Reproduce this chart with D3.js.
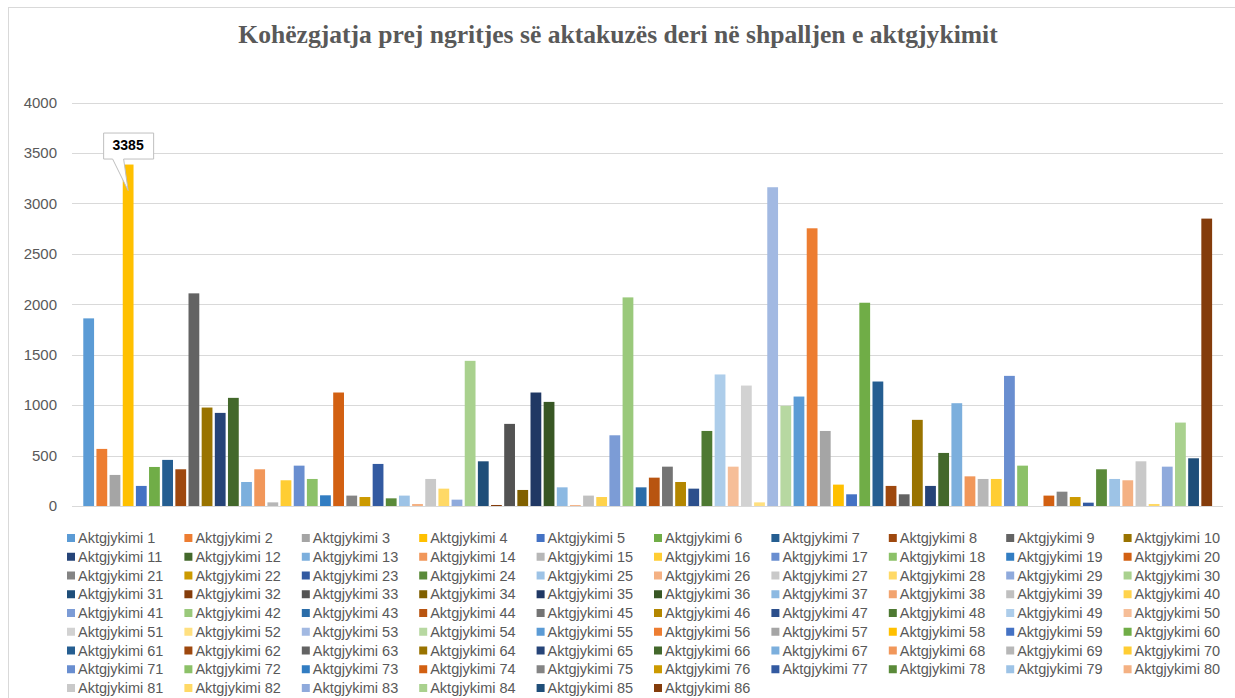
<!DOCTYPE html>
<html>
<head>
<meta charset="utf-8">
<script src="https://cdn.jsdelivr.net/npm/d3@7"></script>
<style>
  html, body { margin: 0; padding: 0; background: #ffffff; }
  svg { display: block; }
</style>
</head>
<body>
<svg id="chart" width="1235" height="698"></svg>
<script>
// ---------------- DATA ----------------
const title = "Kohëzgjatja prej ngritjes së aktakuzës deri në shpalljen e aktgjykimit";

const seriesNames = d3.range(1, 87).map(i => "Aktgjykimi " + i);

const values = [
  1860, 566, 308, 3385, 199, 387, 457, 364, 2108, 976,
  923, 1072, 238, 364, 36, 255, 400, 268, 106, 1125,
  103, 89, 417, 76, 103, 20, 268, 172, 63, 1439,
  443, 10, 814, 159, 1125, 1032, 185, 8, 103, 89,
  701, 2068, 185, 281, 390, 238, 172, 744, 1304, 390,
  1194, 36, 3160, 993, 1085, 2753, 744, 212, 116, 2015,
  1234, 199, 116, 854, 199, 526, 1019, 294, 268, 268,
  1290, 400, 0, 103, 142, 89, 33, 364, 268, 255,
  443, 20, 390, 827, 473, 2849
];

const yTicks = [0, 500, 1000, 1500, 2000, 2500, 3000, 3500, 4000];

const labeledSeries = "Aktgjykimi 4";

// Office theme base colours and Excel's variation sequence (lumMod, lumOff)
const baseColors = ["#5B9BD5", "#ED7D31", "#A5A5A5", "#FFC000", "#4472C4", "#70AD47"];
const variations = [[1, 0], [0.6, 0], [0.8, 0.2], [0.8, 0], [0.6, 0.4], [0.5, 0], [0.7, 0.3], [0.7, 0], [0.5, 0.5]];

// ---------------- LAYOUT ----------------
const svg = d3.select("#chart");
const W = 1235, H = 698;
const plot = { left: 72, right: 1223, top: 102.5, bottom: 506 };

function seriesColor(i) {
  const base = d3.hsl(baseColors[i % 6]);
  const v = variations[Math.floor(i / 6) % variations.length];
  const c = d3.hsl(base.h, base.s, base.l * v[0] + v[1]);
  return c.formatHex();
}

svg.append("rect").attr("width", W).attr("height", H).attr("fill", "#ffffff");
// chart border (extends beyond the picture)
svg.append("rect")
  .attr("x", 8.5).attr("y", 7.5)
  .attr("width", 1400).attr("height", 900)
  .attr("fill", "none").attr("stroke", "#d9d9d9").attr("stroke-width", 1);

// title
svg.append("text")
  .attr("x", 618).attr("y", 43)
  .attr("text-anchor", "middle")
  .attr("font-family", "'Liberation Serif', 'Times New Roman', serif")
  .attr("font-weight", "bold")
  .attr("font-size", 25.6)
  .attr("fill", "#595959")
  .text(title);

const y = d3.scaleLinear().domain([0, 4000]).range([plot.bottom, plot.top]);
const x = d3.scaleBand()
  .domain(seriesNames)
  .range([82.1, 1213.3])
  .paddingInner(0.18)
  .paddingOuter(0.09);

// gridlines
svg.append("g")
  .selectAll("line")
  .data(yTicks)
  .join("line")
  .attr("x1", plot.left).attr("x2", plot.right)
  .attr("y1", d => Math.round(y(d)) + 0.5)
  .attr("y2", d => Math.round(y(d)) + 0.5)
  .attr("stroke", "#d9d9d9").attr("stroke-width", 1);

// y axis labels
const yAxis = d3.axisLeft(y).tickValues(yTicks).tickSize(0).tickPadding(0).tickFormat(d3.format("d"));
const yg = svg.append("g").attr("transform", "translate(57,0)").call(yAxis);
yg.select(".domain").remove();
yg.selectAll("text")
  .attr("font-family", "'Liberation Sans', Arial, sans-serif")
  .attr("font-size", 15)
  .attr("fill", "#595959");

// bars
svg.append("g")
  .selectAll("rect")
  .data(seriesNames.map((n, i) => ({ name: n, value: values[i], i })))
  .join("rect")
  .attr("x", d => x(d.name))
  .attr("width", x.bandwidth())
  .attr("y", d => y(d.value))
  .attr("height", d => y(0) - y(d.value))
  .attr("fill", d => seriesColor(d.i));

// data label callout for Aktgjykimi 4
const li = seriesNames.indexOf(labeledSeries);
const lv = values[li];
const cx = x(labeledSeries) + x.bandwidth() / 2;
const tipY = y(lv) + 26;
const boxW = 50, boxH = 26;
const bx = cx - 25, by = y(lv) - 32;
const callout = svg.append("g");
callout.append("path")
  .attr("d", `M${bx + 0.5},${by + 0.5} H${bx + boxW + 0.5} V${by + boxH + 0.5} H${bx + 20.5} L${cx},${tipY} L${bx + 9.5},${by + boxH + 0.5} H${bx + 0.5} Z`)
  .attr("fill", "#ffffff")
  .attr("stroke", "#bfbfbf")
  .attr("stroke-width", 1);
callout.append("text")
  .attr("x", bx + boxW / 2).attr("y", by + boxH / 2 + 1)
  .attr("text-anchor", "middle")
  .attr("dominant-baseline", "middle")
  .attr("font-family", "'Liberation Sans', Arial, sans-serif")
  .attr("font-weight", "bold")
  .attr("font-size", 14)
  .attr("fill", "#000000")
  .text(d3.format("d")(lv));

// legend
const cols = 10, colW = 117.4, rowH = 18.75, lx0 = 67, ly0 = 538;
const lg = svg.append("g")
  .selectAll("g")
  .data(seriesNames)
  .join("g")
  .attr("transform", (d, i) => `translate(${lx0 + (i % cols) * colW},${ly0 + Math.floor(i / cols) * rowH})`);
lg.append("rect")
  .attr("x", 0).attr("y", -4)
  .attr("width", 8).attr("height", 8)
  .attr("fill", (d, i) => seriesColor(i));
lg.append("text")
  .attr("x", 11).attr("y", 0)
  .attr("dominant-baseline", "central")
  .attr("font-family", "'Liberation Sans', Arial, sans-serif")
  .attr("font-size", 14.5)
  .attr("fill", "#595959")
  .text(d => d);
</script>
</body>
</html>
